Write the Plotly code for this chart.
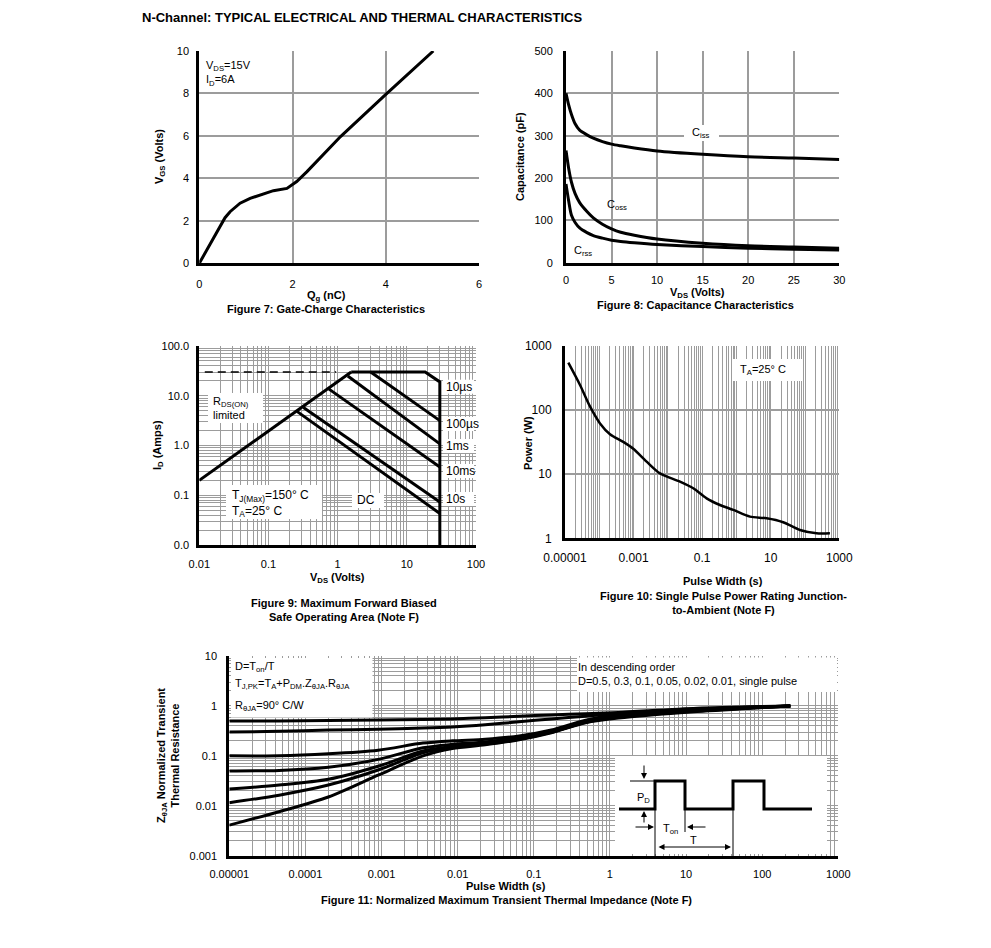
import plotly.graph_objects as go

# page body has an 8px margin, so the figure is placed at (8, 8)
OFF = 8
W, H = 975, 932
FONT = "Liberation Sans, Arial, Helvetica, sans-serif"
GRID = "#9c9c9c"


def X(px):
    return (px - OFF) / W


def Y(py):
    return 1 - (py - OFF) / H


# ---------------- data ----------------
# Figure 7: gate charge
qg_nc = [0, 0.552, 0.66, 0.875, 1.09, 1.30, 1.59, 1.88, 2.09, 2.31, 3.03, 3.99, 5.02]
vgs_v = [0, 2.15, 2.43, 2.83, 3.06, 3.22, 3.42, 3.53, 3.85, 4.32, 5.97, 7.93, 10.0]

# Figure 8: capacitance
vds_cap = [0, 0.3, 0.6, 1.0, 1.5, 2.3, 3, 4, 5, 6, 7.5, 10, 15, 20, 25, 30]
c_iss = [400, 372, 350, 328, 313, 302, 294, 286, 280, 276, 271, 264, 256, 250, 247, 244]
c_oss = [265, 222, 190, 163, 142, 121, 106, 91, 80, 72, 65, 56, 46, 40, 37, 34]
c_rss = [186, 145, 112, 95, 82, 71, 64, 58, 53, 50, 47, 43, 38, 34, 32, 30]

# Figure 9: safe operating area
rds_vds = [0.01, 1.57]
rds_id = [0.2, 30]
dash_vds = [0.012, 0.95]
dash_id = [30, 30]
env_vds = [1.57, 18.4, 30, 30]          # 10us envelope
env_id = [30, 30, 19, 0.01]
us100_vds = [3.0, 30]
us100_id = [30, 3.16]
ms1_vds = [1.4, 30]
ms1_id = [25, 1.08]
ms10_vds = [0.75, 30]
ms10_id = [13.6, 0.37]
s10_vds = [0.32, 30]
s10_id = [5.8, 0.073]
dc_vds = [0.258, 30]
dc_id = [4.85, 0.043]
soa_labels = ["10µs", "100µs", "1ms", "10ms", "10s"]

# Figure 10: single pulse power
pw_t = [1.25e-5, 2.74e-5, 5.4e-5, 1.05e-4, 2.05e-4, 5e-4, 9.8e-4, 2.4e-3, 5.9e-3,
        0.0225, 0.055, 0.135, 0.33, 0.81, 2.48, 7.6, 23, 71, 217, 532]
pw_p = [550, 247, 113, 62, 42, 32, 25, 15.7, 10.3, 7.66, 6.03, 4.2, 3.31, 2.77,
        2.18, 2.05, 1.78, 1.35, 1.2, 1.2]

# Figure 11: normalized transient thermal impedance
zt_t = [1e-5, 4.5e-5, 2e-4, 9e-4, 3.5e-3, 0.0085, 0.023, 0.064, 0.17, 0.48, 1.29, 14, 234]
z_d050 = [0.50, 0.50, 0.51, 0.52, 0.535, 0.55, 0.58, 0.62, 0.66, 0.70, 0.74, 0.90, 1.0]
z_d030 = [0.30, 0.31, 0.33, 0.34, 0.36, 0.38, 0.42, 0.48, 0.55, 0.62, 0.70, 0.87, 1.0]
z_d010 = [0.10, 0.10, 0.11, 0.13, 0.18, 0.20, 0.215, 0.25, 0.33, 0.52, 0.68, 0.85, 1.0]
z_d005 = [0.050, 0.051, 0.059, 0.085, 0.145, 0.17, 0.19, 0.235, 0.31, 0.50, 0.64, 0.83, 1.0]
z_d002 = [0.0216, 0.026, 0.034, 0.062, 0.125, 0.155, 0.18, 0.225, 0.30, 0.48, 0.61, 0.81, 1.0]
z_d001 = [0.0115, 0.0163, 0.026, 0.052, 0.115, 0.148, 0.172, 0.215, 0.295, 0.47, 0.59, 0.79, 1.0]
z_single = [0.0041, 0.0076, 0.015, 0.041, 0.10, 0.14, 0.166, 0.21, 0.29, 0.46, 0.57, 0.77, 1.0]

# tick labels
f9_xlabels = {-2: "0.01", -1: "0.1", 0: "1", 1: "10", 2: "100"}
f9_ylabels = {-2: "0.0", -1: "0.1", 0: "1.0", 1: "10.0", 2: "100.0"}
f10_xlabels = {-5: "0.00001", -3: "0.001", -1: "0.1", 1: "10", 3: "1000"}
f10_ylabels = {0: "1", 1: "10", 2: "100", 3: "1000"}
f11_xlabels = {-5: "0.00001", -4: "0.0001", -3: "0.001", -2: "0.01", -1: "0.1",
               0: "1", 1: "10", 2: "100", 3: "1000"}
f11_ylabels = {-3: "0.001", -2: "0.01", -1: "0.1", 0: "1", 1: "10"}


def log_grid(e0, e1, labels, minor=True):
    vals, text = [], []
    for e in range(e0, e1 + 1):
        for m in range(1, 10):
            if (e == e1 and m > 1) or (not minor and m > 1):
                break
            vals.append(m * 10.0 ** e)
            text.append(labels.get(e, "") if m == 1 else "")
    return vals, text


fig = go.Figure()


def line(x, y, xa, ya, w=3, dash=None, shape="linear"):
    fig.add_trace(go.Scatter(x=x, y=y, xaxis=xa, yaxis=ya, mode="lines",
                             line=dict(color="black", width=w, dash=dash, shape=shape,
                                       smoothing=0.8),
                             hoverinfo="skip", showlegend=False))


line(qg_nc, vgs_v, "x", "y")
for c in (c_iss, c_oss, c_rss):
    line(vds_cap, c, "x2", "y2", shape="spline")
line(rds_vds, rds_id, "x3", "y3")
line(dash_vds, dash_id, "x3", "y3", w=1.5, dash="8px,5px")
line(env_vds, env_id, "x3", "y3")
for vx, iy in ((us100_vds, us100_id), (ms1_vds, ms1_id), (ms10_vds, ms10_id),
               (s10_vds, s10_id), (dc_vds, dc_id)):
    line(vx, iy, "x3", "y3")
line(pw_t, pw_p, "x4", "y4", w=2.5, shape="spline")
for z in (z_d050, z_d030, z_d010, z_d005, z_d002, z_d001, z_single):
    line(zt_t, z, "x5", "y5", shape="spline")


def base_axis(dom, anchor, standoff, size=11):
    return dict(domain=dom, anchor=anchor, showline=True, linecolor="black", linewidth=3,
                mirror=False, showgrid=True, gridcolor=GRID, gridwidth=1.5, zeroline=False,
                ticks="", ticklabelstandoff=standoff, automargin=False,
                tickfont=dict(family=FONT, size=size, color="black"), fixedrange=True)


def xdom(a, b):
    return [X(a), X(b)]


def ydom(top, bottom):
    return [Y(bottom), Y(top)]


layout = {}
# Fig 7
ax = base_axis(xdom(199.3, 479), "y", 8)
ax.update(range=[0, 6], tickvals=[0, 2, 4, 6])
layout["xaxis"] = ax
ay = base_axis(ydom(51, 263.3), "x", 5)
ay.update(range=[0, 10], tickvals=[0, 2, 4, 6, 8, 10])
layout["yaxis"] = ay
# Fig 8
ax = base_axis(xdom(566, 839.3), "y2", 5)
ax.update(range=[0, 30], tickvals=[0, 5, 10, 15, 20, 25, 30])
layout["xaxis2"] = ax
ay = base_axis(ydom(51, 262.7), "x2", 8)
ay.update(range=[0, 500], tickvals=[0, 100, 200, 300, 400, 500])
layout["yaxis2"] = ay
# Fig 9
v, t = log_grid(-2, 2, f9_xlabels)
ax = base_axis(xdom(199.3, 476), "y3", 7)
ax.update(type="log", range=[-2, 2], tickvals=v, ticktext=t, gridwidth=1)
layout["xaxis3"] = ax
v, t = log_grid(-2, 2, f9_ylabels)
ay = base_axis(ydom(346, 545), "x3", 5)
ay.update(type="log", range=[-2, 2], tickvals=v, ticktext=t, gridwidth=1)
layout["yaxis3"] = ay
# Fig 10
v, t = log_grid(-5, 3, f10_xlabels)
ax = base_axis(xdom(565, 839.3), "y4", 6, size=12)
ax.update(type="log", range=[-5, 3], tickvals=v, ticktext=t, gridwidth=1.2)
layout["xaxis4"] = ax
v, t = log_grid(0, 3, f10_ylabels, minor=False)
ay = base_axis(ydom(346, 538.3), "x4", 8, size=12)
ay.update(type="log", range=[0, 3], tickvals=v, ticktext=t, gridwidth=1.5)
layout["yaxis4"] = ay
# Fig 11
v, t = log_grid(-5, 3, f11_xlabels)
ax = base_axis(xdom(229.3, 838.3), "y5", 6)
ax.update(type="log", range=[-5, 3], tickvals=v, ticktext=t, gridwidth=1)
layout["xaxis5"] = ax
v, t = log_grid(-3, 1, f11_ylabels)
ay = base_axis(ydom(656, 855.7), "x5", 7)
ay.update(type="log", range=[-3, 1], tickvals=v, ticktext=t, gridwidth=1)
layout["yaxis5"] = ay

annotations = []
shapes = []


def txt(text, px, py, size=11, bold=False, xanchor="left", yanchor="middle", angle=0,
        align="left"):
    if bold:
        text = "<b>" + text + "</b>"
    annotations.append(dict(text=text, x=X(px), y=Y(py), xref="paper", yref="paper",
                            showarrow=False, xanchor=xanchor, yanchor=yanchor,
                            textangle=angle, align=align,
                            font=dict(family=FONT, size=size, color="black")))


def rect(x0, y0, x1, y1):
    shapes.append(dict(type="rect", xref="paper", yref="paper", x0=X(x0), x1=X(x1),
                       y0=Y(y1), y1=Y(y0), fillcolor="white", line=dict(width=0),
                       layer="above"))


def seg(x0, y0, x1, y1, w=1):
    shapes.append(dict(type="line", xref="paper", yref="paper", x0=X(x0), y0=Y(y0),
                       x1=X(x1), y1=Y(y1), line=dict(color="black", width=w),
                       layer="above"))


def arrow(hx, hy, tx, ty, both=False):
    annotations.append(dict(x=X(hx), y=Y(hy), ax=tx - hx, ay=ty - hy, xref="paper",
                            yref="paper", axref="pixel", ayref="pixel", text="",
                            showarrow=True, arrowhead=2, arrowsize=1.2, arrowwidth=1,
                            arrowcolor="black",
                            arrowside="end+start" if both else "end",
                            standoff=0, startstandoff=0))


# main title
txt("N-Channel: TYPICAL ELECTRICAL AND THERMAL CHARACTERISTICS", 140, 17, size=13, bold=True)

# Fig 7
txt("V<sub>DS</sub>=15V<br>I<sub>D</sub>=6A", 204, 57, yanchor="top")
txt("Q<sub>g</sub> (nC)", 326, 296, bold=True, xanchor="center")
txt("V<sub>GS</sub> (Volts)", 160, 157, bold=True, xanchor="center", angle=-90)
txt("Figure 7: Gate-Charge Characteristics", 326, 309, bold=True, xanchor="center")

# Fig 8
rect(684, 125, 719, 141)
txt("C<sub>iss</sub>", 701, 133, xanchor="center")
txt("C<sub>oss</sub>", 617, 205, xanchor="center")
txt("C<sub>rss</sub>", 583, 251, xanchor="center")
txt("V<sub>DS</sub> (Volts)", 697, 293, bold=True, xanchor="center")
txt("Capacitance (pF)", 520, 157, bold=True, xanchor="center", angle=-90)
txt("Figure 8: Capacitance Characteristics", 695, 305, bold=True, xanchor="center")

# Fig 9
rect(208, 393, 263, 423)
txt("R<sub>DS(ON)</sub><br>limited", 211, 408)
rect(226, 485, 322, 519)
txt("T<sub>J(Max)</sub>=150° C<br>T<sub>A</sub>=25° C", 230, 503, size=12)
rect(352, 493, 384, 508)
txt("DC", 366, 500, size=12, xanchor="center")
for lab, yy in zip(soa_labels, [386.7, 424, 446, 471, 499]):
    rect(443, yy - 7, 474, yy + 7)
    txt(lab, 444, yy, size=12)
txt("V<sub>DS</sub> (Volts)", 337, 578, bold=True, xanchor="center")
txt("I<sub>D</sub> (Amps)", 158, 445, bold=True, xanchor="center", angle=-90)
txt("Figure 9: Maximum Forward Biased<br>Safe Operating Area (Note F)", 344, 610,
    bold=True, xanchor="center", align="center")

# Fig 10
rect(733, 359, 802, 381)
txt("T<sub>A</sub>=25° C", 738, 370)
txt("Pulse Width (s)", 723, 581, bold=True, xanchor="center")
txt("Power (W)", 528, 443, bold=True, xanchor="center", angle=-90)
txt("Figure 10: Single Pulse Power Rating Junction-<br>to-Ambient (Note F)", 723, 603,
    bold=True, xanchor="center", align="center")

# Fig 11
rect(231, 658, 372.5, 717.5)
txt("D=T<sub>on</sub>/T", 233, 667)
txt("T<sub>J,PK</sub>=T<sub>A</sub>+P<sub>DM</sub>.Z<sub>θJA</sub>.R<sub>θJA</sub>", 233, 684)
txt("R<sub>θJA</sub>=90° C/W", 233, 706)
rect(577, 657.5, 837, 692)
txt("In descending order<br>D=0.5, 0.3, 0.1, 0.05, 0.02, 0.01, single pulse", 576, 674)
txt("Pulse Width (s)", 506, 886, bold=True, xanchor="center")
txt("Z<sub>θJA</sub> Normalized Transient<br>Thermal Resistance", 168, 756, bold=True,
    xanchor="center", angle=-90, align="center")
txt("Figure 11: Normalized Maximum Transient Thermal Impedance (Note F)", 506, 900,
    bold=True, xanchor="center")

# pulse inset
rect(615, 756, 827, 854)
wave = [(619, 809), (655, 809), (655, 781), (685, 781), (685, 809), (733, 809),
        (733, 781), (764, 781), (764, 809), (812, 809)]
path = "M " + " L ".join(f"{X(a):.5f},{Y(b):.5f}" for a, b in wave)
shapes.append(dict(type="path", xref="paper", yref="paper", path=path,
                   line=dict(color="black", width=3), layer="above"))
seg(630, 781, 655, 781)
seg(655, 781, 655, 856)
seg(685, 809, 685, 832)
seg(733, 809, 733, 856)
arrow(644, 779, 644, 764)
arrow(644, 811, 644, 824)
arrow(654, 827, 634, 827)
arrow(687, 827, 707, 827)
arrow(731, 847, 657, 847, both=True)
txt("P<sub>D</sub>", 643, 798, xanchor="center")
txt("T<sub>on</sub>", 670, 829, xanchor="center")
txt("T", 693, 840, xanchor="center")

fig.update_layout(width=W, height=H, autosize=False, margin=dict(l=0, r=0, t=0, b=0),
                  paper_bgcolor="white", plot_bgcolor="white", showlegend=False,
                  font=dict(family=FONT, size=11, color="black"),
                  annotations=annotations, shapes=shapes, **layout)

fig.write_html("out.html")
